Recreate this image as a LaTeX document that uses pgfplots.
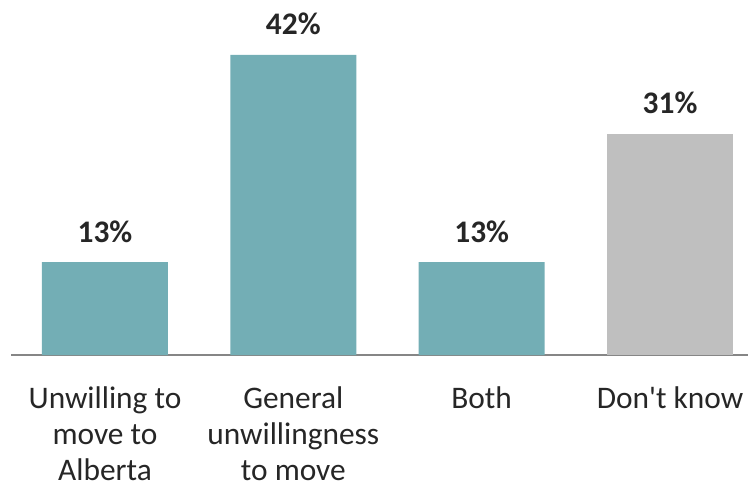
\documentclass[border=0pt]{standalone}
\usepackage{pgfplots}
\pgfplotsset{compat=1.18}
\usepackage{fontspec}
\setmainfont{Carlito}
\definecolor{teal1}{RGB}{115,174,181}
\definecolor{gray1}{RGB}{191,191,191}
\definecolor{axgray}{RGB}{134,134,134}
\definecolor{txt}{RGB}{38,38,38}
\begin{document}
\begin{tikzpicture}
\path[use as bounding box] (-11bp,-131bp) rectangle (737bp,355bp);
\begin{axis}[
  at={(0,0)}, anchor=south west,
  scale only axis,
  width=737bp, height=355bp,
  xmin=-0.499, xmax=3.414,
  ymin=0, ymax=49.7,
  axis x line*=bottom,
  axis y line=none,
  x axis line style={draw=axgray, line width=2bp, -},
  xtick={0,1,2,3},
  xticklabels={{Unwilling to\\move to\\Alberta},{General\\unwillingness\\to move},{Both},{Don\textquotesingle t know}},
  xtick style={draw=none},
  xticklabel style={align=center, font=\fontsize{31.5}{36.5}\selectfont, text=txt, anchor=north, inner sep=0pt, yshift=-27bp},
  /pgf/number format/assume math mode=true,
  bar width=0.669,
  ybar, bar shift=0pt,
  nodes near coords={\pgfmathprintnumber{\pgfplotspointmeta}\%},
  every node near coord/.append style={font=\bfseries\fontsize{31.5}{36}\selectfont, text=txt, anchor=base, inner sep=0pt, yshift=20bp},
  clip=false,
]
\addplot[fill=teal1, draw=none] coordinates {(0,13) (1,42) (2,13)};
\addplot[fill=gray1, draw=none] coordinates {(3,31)};
\end{axis}
\end{tikzpicture}
\end{document}
